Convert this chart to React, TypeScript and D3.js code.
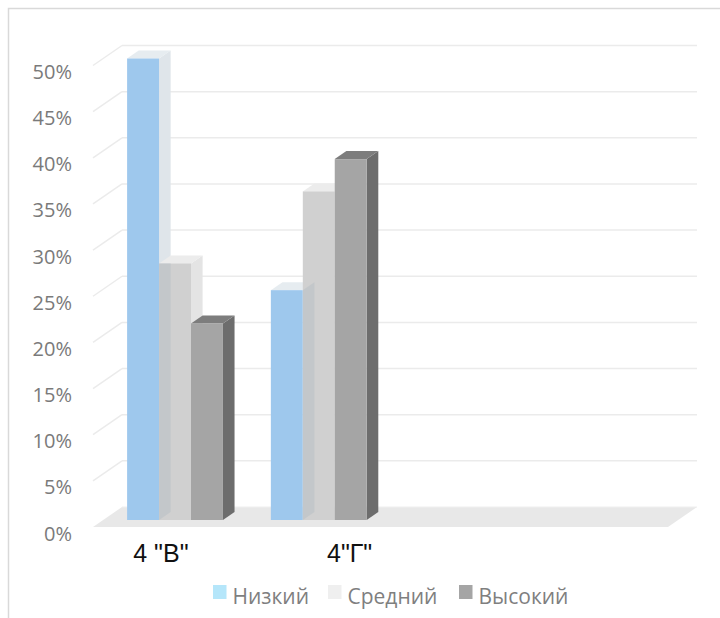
import React from "react";
import * as d3 from "d3";

const categories = ['4 "В"', '4"Г"', "", " "];
const seriesNames = ["Низкий", "Средний", "Высокий"];
const lowValues = [50, 24.9];
const midValues = [27.8, 35.6];
const highValues = [21.3, 39.1];
const tickValues = [0, 5, 10, 15, 20, 25, 30, 35, 40, 45, 50];

const seriesValues = [lowValues, midValues, highValues];
const frontColors = ["#9ec8ed", "#d0d0d0", "#a5a5a5"];
const topColors = ["#e6ecf0", "#ececec", "#7d7d7d"];
const sideColors = ["#dfe5ea", "#e4e4e4", "#6d6d6d"];
const legendColors = ["#b5e6fa", "#efefef", "#a5a5a5"];

const W = 720;
const H = 618;
const baseY = 527; // floor front edge
const depthTotal = 20;
const slope = 1.45;
const barFrontD = 7;
const barDepth = 8;

export default function App() {
  const x = d3
    .scaleBand<string>()
    .domain(categories)
    .range([93, 668])
    .paddingInner(1 / 3)
    .paddingOuter(1 / 6);
  const xs = d3
    .scaleBand<string>()
    .domain(seriesNames)
    .range([0, x.bandwidth()])
    .padding(0);
  const y = d3.scaleLinear().domain([0, 50]).range([0, 461.5]);

  const P = (xf: number, v: number, d: number): [number, number] => [
    xf + slope * d,
    baseY - d - y(v),
  ];

  const xL = x.range()[0];
  const xR = x.range()[1];

  const grid = tickValues.filter((t) => t > 0);
  const floor = [P(xL, 0, 0), P(xR, 0, 0), P(xR, 0, depthTotal), P(xL, 0, depthTotal)];

  const ddx = slope * barDepth;
  const bars: any[] = [];
  categories.slice(0, 2).forEach((c, ci) => {
    seriesNames.forEach((s, si) => {
      const v = seriesValues[si][ci];
      const x0 = (x(c) as number) + (xs(s) as number) + slope * barFrontD;
      const w = xs.bandwidth();
      const yB = baseY - barFrontD;
      const yT = yB - y(v);
      bars.push({ ci, si, x0, w, yB, yT });
    });
  });

  const pts = (a: [number, number][]) => a.map((p) => p.join(",")).join(" ");

  return (
    <svg width={W} height={H} style={{ position: "absolute", left: 0, top: 0 }}>
      <rect x={0} y={0} width={W} height={H} fill="#fff" />
      <rect x={8.5} y={8.5} width={W + 10} height={H + 10} fill="none" stroke="#d9d9d9" strokeWidth={1.5} />
      {grid.map((t) => {
        const a = P(xL, t, 0);
        const b = P(xL, t, depthTotal);
        const c = P(xR, t, depthTotal);
        return (
          <g key={t}>
            <line x1={a[0]} y1={a[1]} x2={b[0]} y2={b[1]} stroke="#ebebeb" strokeWidth={1.5} />
            <line x1={b[0]} y1={b[1]} x2={c[0]} y2={c[1]} stroke="#ebebeb" strokeWidth={1.5} />
          </g>
        );
      })}
      <polygon points={pts(floor)} fill="#e8e8e8" />
      <line x1={floor[3][0]} y1={floor[3][1]} x2={floor[2][0]} y2={floor[2][1]} stroke="#efefef" strokeWidth={1} />
      <defs>
        {bars.map((b, i) => (
          <clipPath id={`clip${i}`} key={i}>
            <rect x={b.x0} y={b.yT} width={b.w} height={b.yB - b.yT} />
          </clipPath>
        ))}
      </defs>
      {bars.map((b, i) => {
        const top: [number, number][] = [
          [b.x0, b.yT],
          [b.x0 + b.w, b.yT],
          [b.x0 + b.w + ddx, b.yT - barDepth],
          [b.x0 + ddx, b.yT - barDepth],
        ];
        const side: [number, number][] = [
          [b.x0 + b.w, b.yT],
          [b.x0 + b.w + ddx, b.yT - barDepth],
          [b.x0 + b.w + ddx, b.yB - barDepth],
          [b.x0 + b.w, b.yB],
        ];
        return (
          <g key={i}>
            <polygon points={pts(side)} fill={sideColors[b.si]} />
            <polygon points={pts(top)} fill={topColors[b.si]} />
            <rect x={b.x0} y={b.yT} width={b.w} height={b.yB - b.yT} fill={frontColors[b.si]} />
          </g>
        );
      })}
      {bars
        .map((b, i) => ({ b, i }))
        .filter(({ b }) => b.si === 0)
        .map(({ b, i }) => {
          const side: [number, number][] = [
            [b.x0 + b.w, b.yT],
            [b.x0 + b.w + ddx, b.yT - barDepth],
            [b.x0 + b.w + ddx, b.yB - barDepth],
            [b.x0 + b.w, b.yB],
          ];
          return (
            <polygon key={`ov${i}`} points={pts(side)} fill="#8fa3b2" opacity={0.2} clipPath={`url(#clip${i + 1})`} />
          );
        })}
      {tickValues.map((t) => {
        const a = P(xL, t, 0);
        return (
          <text
            key={`l${t}`}
            x={72}
            y={a[1] + 13.5}
            textAnchor="end"
            fontFamily="Open Sans"
            fontSize={20}
            fill="#7a7a7a"
          >
            {t}%
          </text>
        );
      })}
      {categories.slice(0, 2).map((c, i) => {
        const cx = (x(c) as number) - x.paddingOuter() * x.step() + x.step() / 2 + (i === 0 ? -4 : 41);
        return (
          <text
            key={`c${i}`}
            x={cx}
            y={561.5}
            textAnchor="middle"
            fontFamily="Liberation Sans"
            fontSize={25}
            fill="#111"
          >
            {c}
          </text>
        );
      })}
      {seriesNames.map((s, i) => {
        const lx = [213, 328, 459][i];
        return (
          <g key={`lg${i}`}>
            <rect x={lx} y={585} width={13.5} height={14} fill={legendColors[i]} />
            <text x={lx + 19.5} y={603.5} fontFamily="Open Sans" fontSize={21} fill="#7f7f7f">
              {s}
            </text>
          </g>
        );
      })}
    </svg>
  );
}
